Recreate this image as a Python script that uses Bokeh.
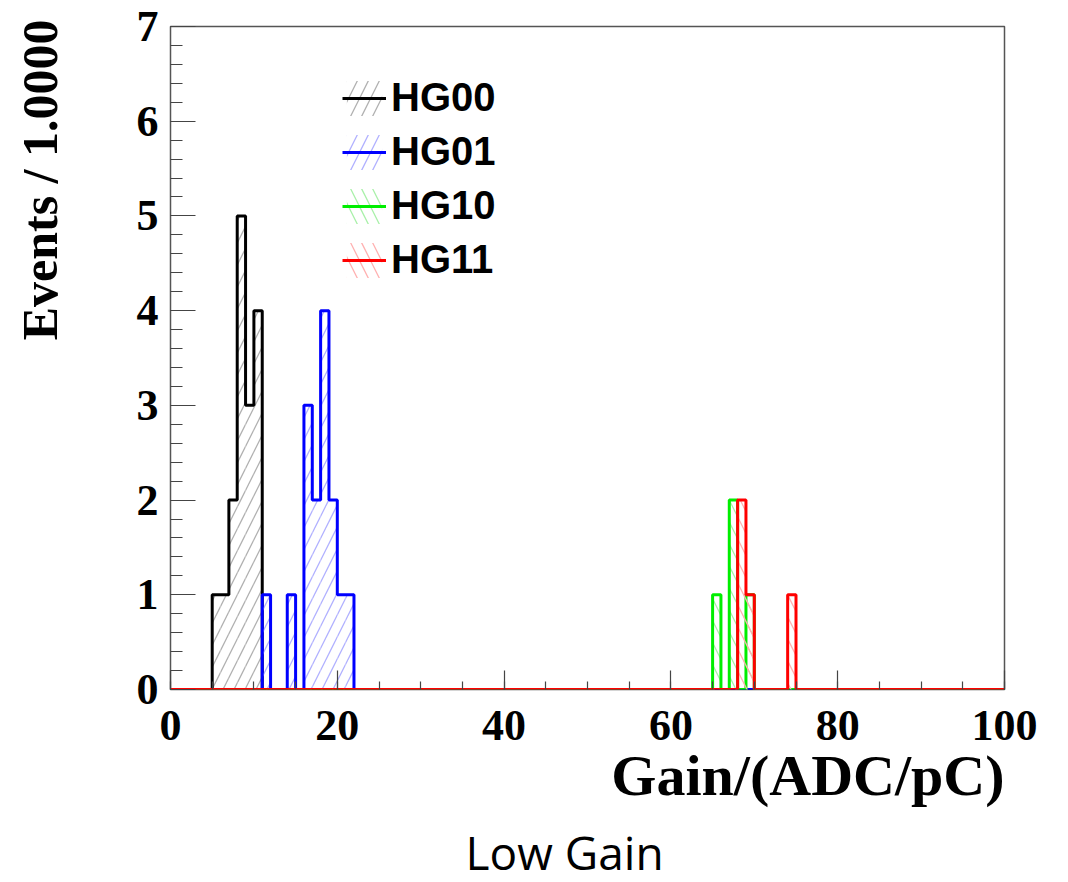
import numpy as np
from bokeh.plotting import figure
from bokeh.models import SingleIntervalTicker, Legend, LegendItem, ColumnDataSource, Title
from bokeh.embed import file_html
from bokeh.resources import INLINE

# ---- data ----
hist_range = (0, 100)   # histogram axis range, bin width 1
series_names = ["HG00", "HG01", "HG10", "HG11"]
hg00_bins = [5, 6, 7, 8, 9, 10]
hg00_counts = [1, 1, 2, 5, 3, 4]
hg01_bins = [11, 14, 16, 17, 18, 19, 20, 21]
hg01_counts = [1, 1, 3, 2, 4, 2, 1, 1]
hg10_bins = [65, 67, 69]
hg10_counts = [1, 2, 1]
hg11_bins = [68, 69, 74]
hg11_counts = [2, 1, 1]
x_title = "Gain/(ADC/pC)"
y_title = "Events / 1.0000"
caption = "Low Gain"

series = [
    (series_names[0], hg00_bins, hg00_counts, "#000000", "#b0b0b0", "right_diagonal_line"),
    (series_names[1], hg01_bins, hg01_counts, "#0000ff", "#b0b0ff", "right_diagonal_line"),
    (series_names[2], hg10_bins, hg10_counts, "#00ee00", "#a8f0a8", "left_diagonal_line"),
    (series_names[3], hg11_bins, hg11_counts, "#ff0000", "#ffb0b0", "left_diagonal_line"),
]

p = figure(width=1060, height=882, x_range=hist_range, y_range=(0, 7),
           output_backend="svg", toolbar_location=None,
           min_border_left=170, min_border_right=56, min_border_top=26, min_border_bottom=193)
p.grid.visible = False
p.background_fill_color = "white"
p.border_fill_color = "white"
p.outline_line_color = "#555555"
p.outline_line_width = 1.5

serif = "Liberation Serif"

# axes
p.xaxis.ticker = SingleIntervalTicker(interval=20, num_minor_ticks=4)
p.yaxis.ticker = SingleIntervalTicker(interval=1, num_minor_ticks=5)
for ax in (p.xaxis[0], p.yaxis[0]):
    ax.axis_line_color = None
    ax.major_tick_out = 0
    ax.minor_tick_out = 0
    ax.major_tick_line_color = "#444444"
    ax.minor_tick_line_color = "#444444"
    ax.major_tick_line_width = 1.2
    ax.minor_tick_line_width = 1.2
    ax.major_label_text_font = serif
    ax.major_label_text_font_style = "bold"
    ax.major_label_text_font_size = "44px"
    ax.major_label_text_color = "black"
p.xaxis.major_tick_in = 19
p.xaxis.minor_tick_in = 8
p.xaxis.major_label_standoff = 21
p.yaxis.major_tick_in = 25
p.yaxis.minor_tick_in = 12
p.yaxis.major_label_standoff = 12

items = []
for name, bins, counts, lc, hc, hp in series:
    b = np.array(bins, dtype=float)
    src = ColumnDataSource(dict(left=b, right=b + 1, top=np.array(counts, dtype=float),
                                bottom=np.zeros(len(b))))
    q = p.quad(left="left", right="right", top="top", bottom="bottom", source=src,
               fill_alpha=0, line_alpha=0, hatch_pattern=hp, hatch_color=hc,
               hatch_scale=22, hatch_weight=1.3)
    full = np.zeros(hist_range[1] - hist_range[0])
    full[np.array(bins) - hist_range[0]] = counts
    ex = np.arange(hist_range[0], hist_range[1] + 1)
    ey = np.append(full, full[-1])
    s = p.step(ex, ey, mode="after", line_color=lc, line_width=3)
    items.append(LegendItem(label=name, renderers=[q, s]))

legend = Legend(items=items, location=(172, 407), orientation="vertical",
                glyph_width=44, glyph_height=44, label_height=38, spacing=9,
                label_standoff=5, padding=0, margin=0,
                label_text_font="Liberation Sans", label_text_font_style="bold",
                label_text_font_size="40px", label_text_color="black",
                border_line_alpha=0, background_fill_alpha=0)
p.add_layout(legend, "center")

# titles (placed in side panels so they are not clipped)
p.add_layout(Title(text=x_title, align="right", text_font=serif, text_font_style="bold",
                   text_font_size="58px", text_color="black", standoff=-4), "below")
p.add_layout(Title(text=" ", text_font_size="2px", standoff=9), "below")   # spacing
p.add_layout(Title(text=caption, align="left", offset=295, text_font="Open Sans",
                   text_font_style="normal", text_font_size="46px", text_color="black",
                   standoff=0), "below")
p.add_layout(Title(text=" ", text_font_size="2px", standoff=62), "left")    # spacing
p.add_layout(Title(text=y_title, align="right", offset=-7, text_font=serif,
                   text_font_style="bold", text_font_size="50px", text_color="black",
                   standoff=0), "left")

open("out.html", "w").write(file_html(p, INLINE))
